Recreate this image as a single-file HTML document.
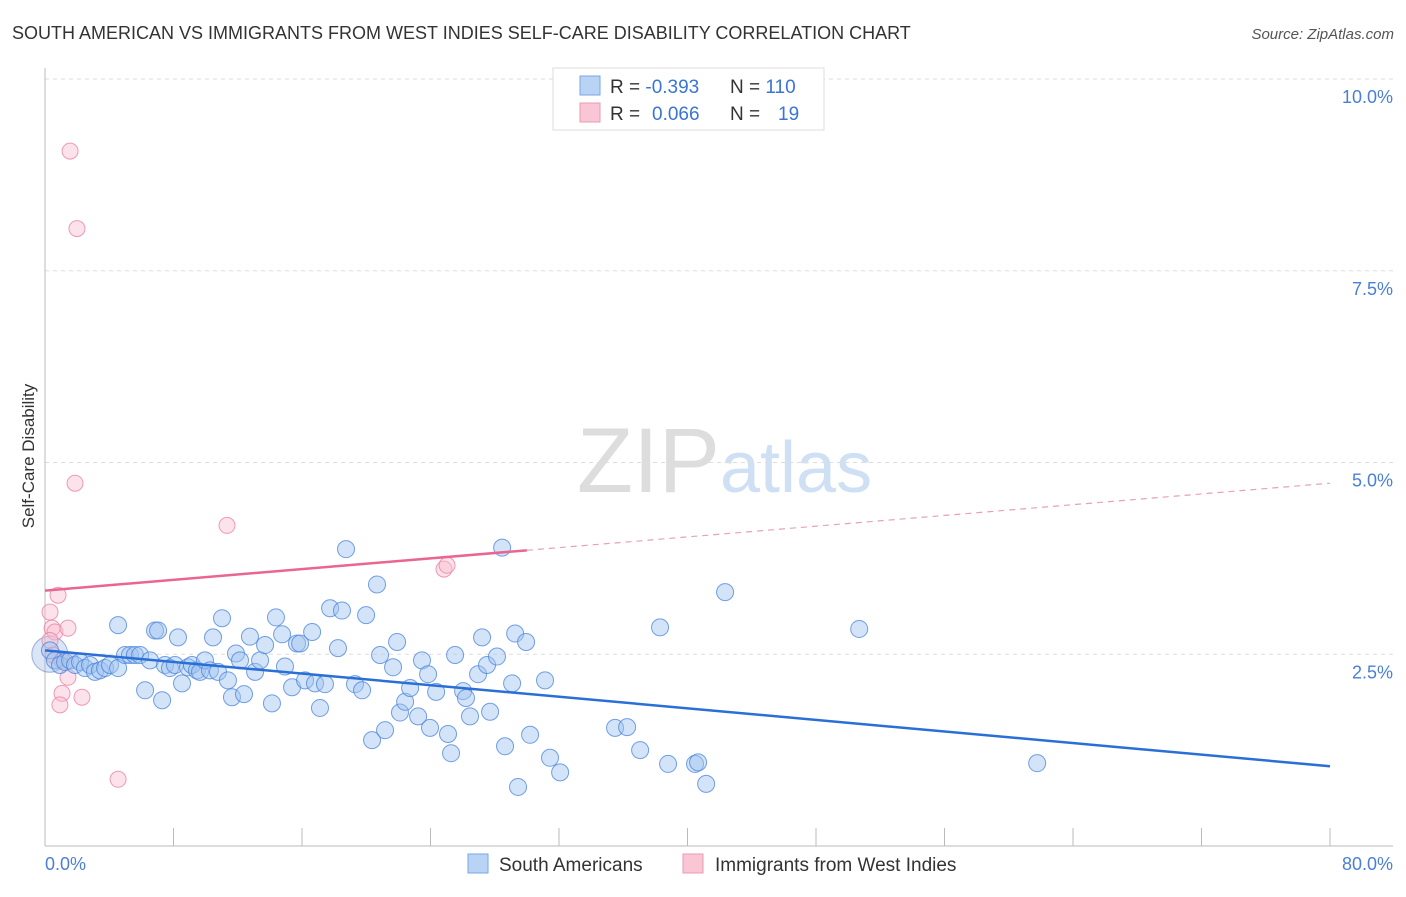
<!DOCTYPE html>
<html><head><meta charset="utf-8"><style>
body{margin:0;background:#fff;font-family:"Liberation Sans",sans-serif;}
svg text{font-family:"Liberation Sans",sans-serif;}
</style></head><body>
<svg id="chart" width="1406" height="892" xmlns="http://www.w3.org/2000/svg">
<text x="12" y="39" font-size="18" fill="#333">SOUTH AMERICAN VS IMMIGRANTS FROM WEST INDIES SELF-CARE DISABILITY CORRELATION CHART</text>
<text x="1394" y="39" font-size="15" fill="#555" font-style="italic" text-anchor="end">Source: ZipAtlas.com</text>
<text x="720" y="492" font-size="92" fill="#ddd" text-anchor="end" font-family="Liberation Serif">ZIP</text>
<text x="720" y="492" font-size="72" fill="#cfe0f5">atlas</text>
<g id="grid"></g>
<g id="axes"></g>
<g id="points"></g>
<g id="trends"></g>
<text transform="translate(34,456) rotate(-90)" font-size="17" fill="#333" text-anchor="middle">Self-Care Disability</text>
<text x="45" y="870" font-size="18" fill="#4a7fd8">0.0%</text>
<text x="1393" y="870" font-size="18" fill="#4a7fd8" text-anchor="end">80.0%</text>
<g>
<rect x="553" y="68" width="271" height="62" fill="#fff" stroke="#ddd"/>
<rect x="580" y="76" width="20" height="19" fill="#b9d3f5" stroke="#7aa6e6"/>
<rect x="580" y="103" width="20" height="19" fill="#f8c6d4" stroke="#ee9ab4"/>
<text x="610" y="93" font-size="19" fill="#333">R = <tspan fill="#3a74d6">-0.393</tspan></text>
<text x="730" y="93" font-size="19" fill="#333">N = <tspan fill="#3a74d6">110</tspan></text>
<text x="610" y="120" font-size="19" fill="#333">R = <tspan fill="#3a74d6" x="652">0.066</tspan></text>
<text x="730" y="120" font-size="19" fill="#333">N = <tspan fill="#3a74d6" x="778">19</tspan></text>
</g>
<g>
<rect x="468" y="854" width="20" height="19" fill="#b9d3f5" stroke="#7aa6e6"/>
<text x="499" y="871" font-size="19" fill="#333">South Americans</text>
<rect x="683" y="854" width="20" height="19" fill="#f8c6d4" stroke="#ee9ab4"/>
<text x="715" y="871" font-size="19" fill="#333">Immigrants from West Indies</text>
</g>
</svg>
<script>
const yTicks=[2.5,5.0,7.5,10.0];
const yTickLabels=["2.5%","5.0%","7.5%","10.0%"];
const xTicks=[8,16,24,32,40,48,56,64,72,80];
const blueX=[0.31,0.62,0.93,1.25,1.56,1.87,2.18,2.49,2.80,3.11,3.42,3.74,4.05,4.55,4.55,4.98,5.29,5.60,5.92,6.23,6.54,6.85,7.04,7.29,7.47,7.78,8.09,8.28,8.53,8.90,9.15,9.46,9.65,9.96,10.27,10.46,10.77,11.02,11.39,11.64,11.89,12.14,12.39,12.76,13.08,13.39,13.70,14.13,14.38,14.76,14.94,15.38,15.69,15.88,16.19,16.63,16.81,17.12,17.43,17.75,18.24,18.49,18.74,19.30,19.74,19.99,20.36,20.67,20.86,21.17,21.67,21.92,22.10,22.42,22.73,23.23,23.47,23.85,23.97,24.35,25.09,25.28,25.53,26.03,26.21,26.46,26.96,27.21,27.52,27.71,28.14,28.46,28.64,29.08,29.27,29.45,29.95,30.20,31.13,31.44,32.07,35.49,36.24,37.05,38.29,38.79,40.47,40.66,41.16,42.34,50.69,61.77];
const blueY=[2.55,2.42,2.36,2.40,2.42,2.36,2.40,2.32,2.36,2.27,2.29,2.32,2.36,2.88,2.32,2.49,2.49,2.49,2.49,2.03,2.42,2.81,2.81,1.90,2.36,2.32,2.36,2.72,2.12,2.33,2.36,2.29,2.27,2.42,2.29,2.72,2.27,2.97,2.16,1.94,2.51,2.42,1.98,2.73,2.27,2.42,2.62,1.86,2.98,2.76,2.34,2.07,2.64,2.64,2.16,2.79,2.12,1.80,2.11,3.10,2.58,3.07,3.87,2.11,2.03,3.01,1.38,3.41,2.49,1.51,2.33,2.66,1.74,1.88,2.06,1.69,2.42,2.24,1.54,2.01,1.46,1.21,2.49,2.02,1.93,1.69,2.24,2.72,2.36,1.75,2.47,3.89,1.30,2.12,2.77,0.77,2.66,1.45,2.16,1.15,0.96,1.54,1.55,1.25,2.85,1.07,1.07,1.09,0.81,3.31,2.83,1.08];
const pinkX=[1.56,1.99,1.87,11.33,24.84,25.03,0.81,0.31,0.44,0.62,1.43,0.31,0.50,1.06,1.43,1.06,0.93,2.30,4.55];
const pinkY=[9.06,8.05,4.73,4.18,3.61,3.66,3.27,3.05,2.84,2.79,2.84,2.68,2.49,2.42,2.20,1.99,1.84,1.94,0.87];
const blueTrend=[2.55,1.04];
const pinkTrend=[3.33,4.73];
const pinkSolidEnd=30.0;

const X0=45,X1=1330,Y0=846,Y1=79;
const sx=v=>X0+(v/80)*(X1-X0);
const sy=v=>Y0-(v/10)*(Y0-Y1);
const NS="http://www.w3.org/2000/svg";
function mk(tag,attrs,parent){const e=document.createElementNS(NS,tag);for(const k in attrs)e.setAttribute(k,attrs[k]);document.getElementById(parent).appendChild(e);return e;}

yTicks.forEach((t,i)=>{
  const g=mk('line',{x1:X0,x2:1393,y1:sy(t),y2:sy(t),stroke:'#ddd','stroke-dasharray':'4,4'},'grid');
  
  
  const l=mk('text',{x:1393,y:sy(t)+24,'font-size':18,fill:'#4a7fd8','text-anchor':'end'},'grid');
  l.textContent=yTickLabels[i];
  
  
});
const ya=mk('line',{x1:X0,x2:X0,y1:68,y2:Y0,stroke:'#bbb'},'axes');


const xa=mk('line',{x1:X0,x2:1393,y1:Y0,y2:Y0,stroke:'#bbb'},'axes');


xTicks.forEach(t=>{
  const tk=mk('line',{x1:sx(t),x2:sx(t),y1:828,y2:Y0,stroke:'#bbb'},'axes');
  
  
});
const big=mk('circle',{cx:sx(0.3),cy:sy(2.5),r:18,fill:'rgba(150,180,230,0.35)',stroke:'rgba(100,130,200,0.6)'},'points');


pinkX.forEach((x,i)=>{
  const c=mk('circle',{cx:sx(x),cy:sy(pinkY[i]),r:8,fill:'rgba(248,190,208,0.45)',stroke:'rgba(236,130,165,0.8)','stroke-width':1},'points');
  
  
});
blueX.forEach((x,i)=>{
  const c=mk('circle',{cx:sx(x),cy:sy(blueY[i]),r:8.5,fill:'rgba(160,196,240,0.45)',stroke:'rgba(70,130,220,0.75)','stroke-width':1},'points');
  
  
});
const bt=mk('line',{x1:sx(0),y1:sy(blueTrend[0]),x2:sx(80),y2:sy(blueTrend[1]),stroke:'#2a6fd6','stroke-width':2.5},'trends');


const pAt=x=>pinkTrend[0]+(pinkTrend[1]-pinkTrend[0])*x/80;
const ps=mk('line',{x1:sx(0),y1:sy(pAt(0)),x2:sx(pinkSolidEnd),y2:sy(pAt(pinkSolidEnd)),stroke:'#e8668f','stroke-width':2.5},'trends');


const pd=mk('line',{x1:sx(pinkSolidEnd),y1:sy(pAt(pinkSolidEnd)),x2:sx(80),y2:sy(pAt(80)),stroke:'#e8a0b8','stroke-width':1.2,'stroke-dasharray':'6,5'},'trends');


</script>
</body></html>
